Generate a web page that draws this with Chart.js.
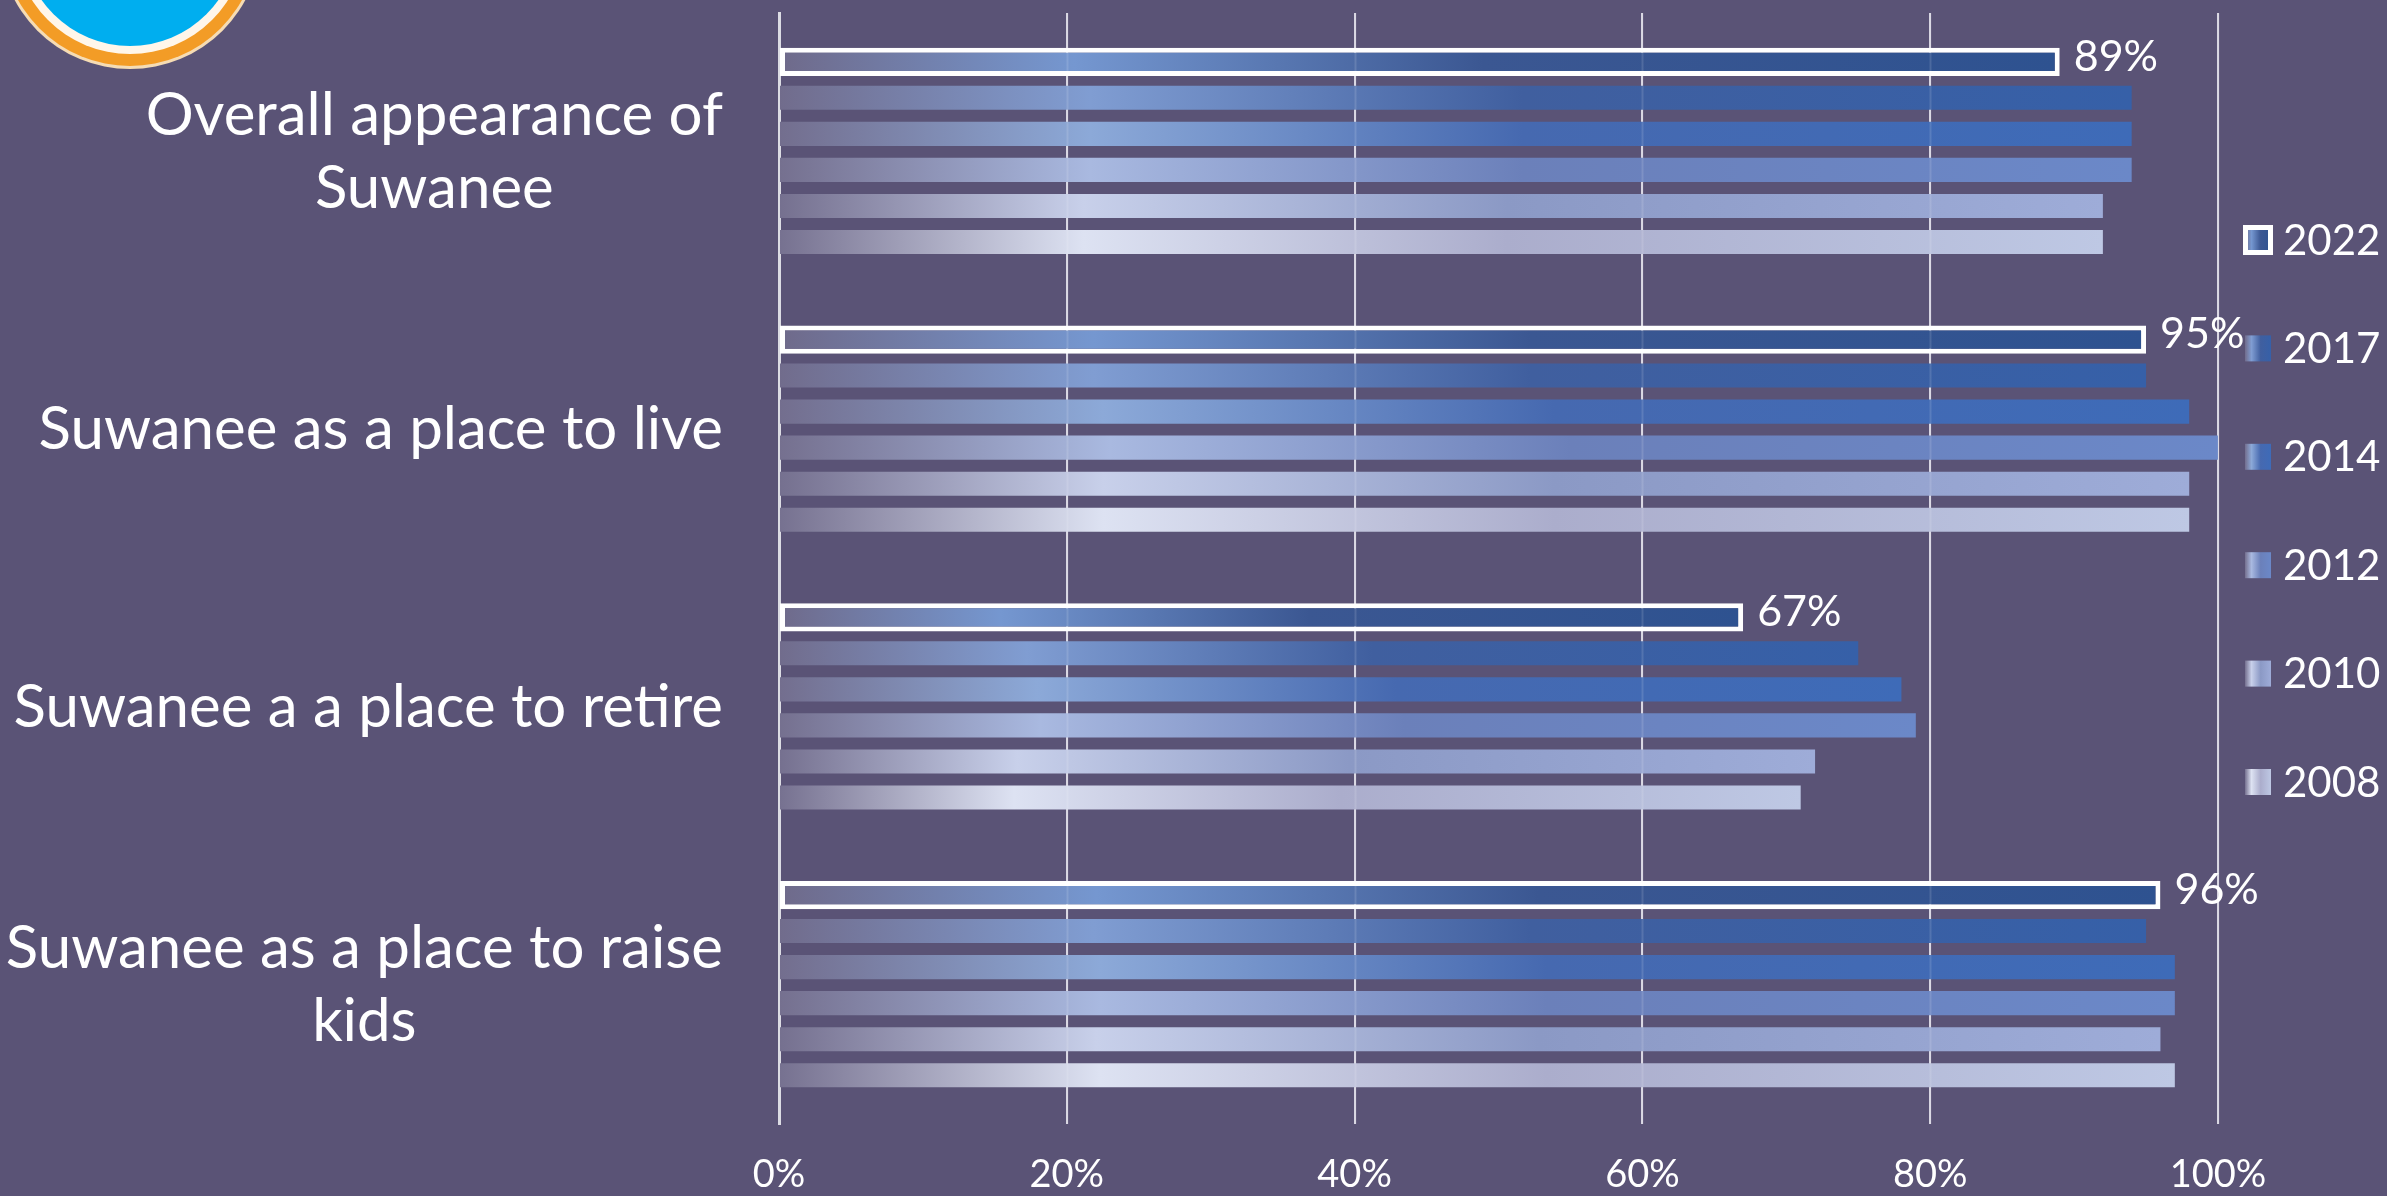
<!DOCTYPE html>
<html>
<head>
<meta charset="utf-8">
<script src="https://cdn.jsdelivr.net/npm/chart.js@4.4.1/dist/chart.umd.min.js"></script>
<style>
  html, body { margin: 0; padding: 0; background: #5a5376; }
  #wrap { width: 2387px; height: 1196px; position: relative; }
</style>
</head>
<body>
<div id="wrap"><canvas id="survey-chart"></canvas></div>
<script>
// data
const categories = [
  ["Overall appearance of", "Suwanee"],
  ["Suwanee as a place to live"],
  ["Suwanee a a place to retire"],
  ["Suwanee as a place to raise", "kids"],
];
const years = ["2022", "2017", "2014", "2012", "2010", "2008"];
const v2022 = [89, 95, 67, 96];
const v2017 = [94, 95, 75, 95];
const v2014 = [94, 98, 78, 97];
const v2012 = [94, 100, 79, 97];
const v2010 = [92, 98, 72, 96];
const v2008 = [92, 98, 71, 97];
const xTicks = [0, 20, 40, 60, 80, 100];

// gradient stops per series (start, light peak, mid, end)
const STOPS = [
  ["#6f6a8a", "#7597d0", "#3b5792", "#2e5290"],
  ["#716c8c", "#809dd2", "#405f9f", "#3660a8"],
  ["#736e8e", "#8ca9d8", "#4669b0", "#3e6bb8"],
  ["#75708f", "#a9b9e0", "#6b80ba", "#6b88c8"],
  ["#75708f", "#c8d0ea", "#8b99c5", "#9eacd8"],
  ["#767190", "#dde2f2", "#abadcc", "#bec8e4"],
];

const FONT = "Lato, 'Open Sans', sans-serif";

function barFill(idx) {
  return function (ctx) {
    const chart = ctx.chart;
    const xs = chart.scales.x;
    const s = STOPS[idx];
    if (!xs || ctx.raw == null) return s[3];
    const x0 = xs.getPixelForValue(0);
    const x1 = xs.getPixelForValue(ctx.raw);
    if (!Number.isFinite(x0) || !Number.isFinite(x1) || x1 <= x0) return s[3];
    const g = chart.ctx.createLinearGradient(x0, 0, x1, 0);
    g.addColorStop(0, s[0]);
    g.addColorStop(0.23, s[1]);
    g.addColorStop(0.55, s[2]);
    g.addColorStop(1, s[3]);
    return g;
  };
}

const seriesValues = [v2022, v2017, v2014, v2012, v2010, v2008];

const datasets = years.map((yr, i) => ({
  label: yr,
  data: seriesValues[i],
  backgroundColor: barFill(i),
  borderColor: i === 0 ? "#ffffff" : "rgba(0,0,0,0)",
  borderWidth: i === 0 ? 5 : 0,
  borderSkipped: false,
  barPercentage: i === 0 ? 0.78 : 0.667,
  categoryPercentage: 0.778,
}));

// logo circle peeking in at the top left
const logoPlugin = {
  id: "logo",
  beforeDraw(chart) {
    const c = chart.ctx;
    const cx = 130, cy = -62;
    const rings = [[131, "#f6dcb4"], [128, "#f39c26"], [116, "#fff6ea"], [108, "#00aeef"]];
    c.save();
    rings.forEach(([r, col]) => {
      c.beginPath();
      c.arc(cx, cy, r, 0, Math.PI * 2);
      c.fillStyle = col;
      c.fill();
    });
    c.restore();
  },
};

// category labels: box right aligned, lines centred inside it
const catLabels = {
  id: "catLabels",
  afterDraw(chart) {
    const c = chart.ctx;
    const ys = chart.scales.y;
    const right = chart.chartArea.left - 56;
    const lh = 73;
    c.save();
    c.font = "60px " + FONT;
    c.fillStyle = "#ffffff";
    c.textAlign = "center";
    c.textBaseline = "middle";
    categories.forEach((lines, i) => {
      const y = ys.getPixelForTick(i);
      const widest = Math.max(...lines.map((l) => c.measureText(l).width));
      const cx = right - widest / 2;
      lines.forEach((l, j) => {
        c.fillText(l, cx, y + (j - (lines.length - 1) / 2) * lh);
      });
    });
    c.restore();
  },
};

// faint grid lines showing through the bars + value labels for 2022
const overlay = {
  id: "overlay",
  afterDatasetsDraw(chart) {
    const c = chart.ctx;
    const xs = chart.scales.x;
    const area = chart.chartArea;
    c.save();
    c.strokeStyle = "rgba(255,255,255,0.13)";
    c.lineWidth = 2;
    xTicks.slice(1).forEach((t) => {
      const x = Math.round(xs.getPixelForValue(t)) + 0.5;
      c.beginPath();
      c.moveTo(x, area.top);
      c.lineTo(x, area.bottom);
      c.stroke();
    });

    const meta = chart.getDatasetMeta(0);
    c.font = "43px " + FONT;
    c.fillStyle = "#ffffff";
    c.textAlign = "left";
    c.textBaseline = "middle";
    meta.data.forEach((bar, i) => {
      c.fillText(v2022[i] + "%", bar.x + 14, bar.y - 5);
    });
    c.restore();
  },
};

// legend on the right
const sideLegend = {
  id: "sideLegend",
  afterDraw(chart) {
    const c = chart.ctx;
    const bx = 2245, top = 240, step = 108.4, size = 26;
    c.save();
    c.font = "42px " + FONT;
    c.textAlign = "left";
    c.textBaseline = "middle";
    years.forEach((yr, i) => {
      const y = top + i * step;
      const s = STOPS[i];
      const g = c.createLinearGradient(bx, 0, bx + size, 0);
      g.addColorStop(0, s[0]);
      g.addColorStop(0.25, s[1]);
      g.addColorStop(0.6, s[2]);
      g.addColorStop(1, s[3]);
      if (i === 0) {
        c.fillStyle = "#ffffff";
        c.fillRect(bx - 2, y - size / 2 - 2, size + 4, size + 4);
        c.fillStyle = g;
        c.fillRect(bx + 3, y - size / 2 + 3, size - 6, size - 6);
      } else {
        c.fillStyle = g;
        c.fillRect(bx, y - size / 2, size, size);
      }
      c.fillStyle = "#ffffff";
      c.fillText(yr, 2283, y + 1);
    });
    c.restore();
  },
};

const chart = new Chart("survey-chart", {
  type: "bar",
  data: {
    labels: categories,
    datasets: datasets,
  },
  plugins: [logoPlugin, overlay, catLabels, sideLegend],
  options: {
    indexAxis: "y",
    responsive: true,
    maintainAspectRatio: false,
    animation: false,
    layout: { padding: { top: 13, right: 169, left: 0, bottom: 0 } },
    plugins: {
      legend: { display: false },
      tooltip: { enabled: false },
    },
    scales: {
      x: {
        min: 0,
        max: 100,
        afterBuildTicks(scale) {
          scale.ticks = xTicks.map((v) => ({ value: v }));
        },
        afterFit(scale) {
          scale.height = 72;
        },
        grid: { color: "#d6d4e0", lineWidth: 2, drawTicks: false },
        border: { display: false },
        ticks: {
          color: "#ffffff",
          font: { family: FONT, size: 38 },
          padding: 28,
          callback: (v) => v + "%",
        },
      },
      y: {
        afterFit(scale) {
          scale.width = 779;
        },
        grid: { display: false },
        border: { display: true, color: "#dcdce4", width: 3 },
        ticks: { display: false },
      },
    },
  },
});
// chart.update() once more so gradients use the laid-out scale
chart.update();
</script>
</body>
</html>
